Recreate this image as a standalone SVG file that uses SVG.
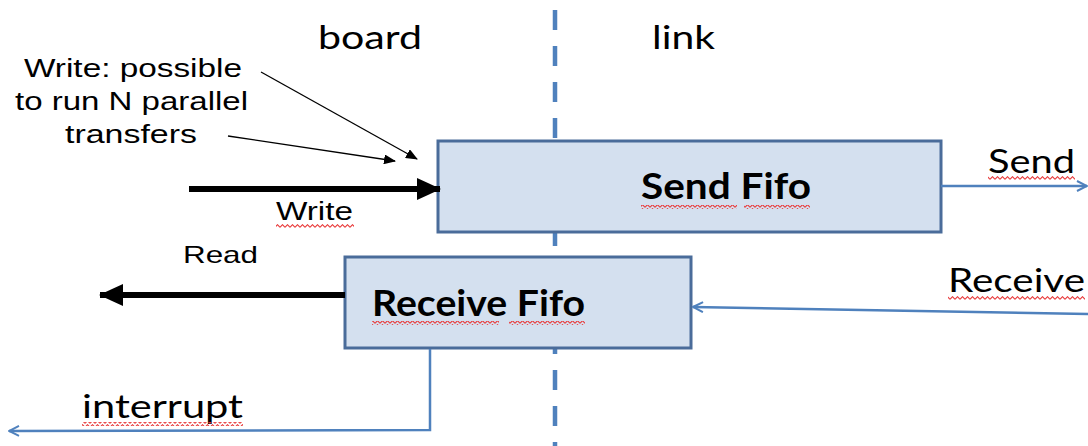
<svg xmlns="http://www.w3.org/2000/svg" width="1088" height="446" viewBox="0 0 1088 446">
  <style>
    .cal { font-family: Lato, "Open Sans", "Liberation Sans", sans-serif; fill: #000; }
    .ari { font-family: "Liberation Sans", Arial, sans-serif; fill: #000; }
    .bold { font-weight: bold; }
    .box { fill: #d4e0ef; stroke: #4a6c9a; stroke-width: 3; }
    .blue { fill: none; stroke: #4f81bd; stroke-width: 2.5; }
    .thick { fill: none; stroke: #000; stroke-width: 6; }
    .thin { fill: none; stroke: #000; stroke-width: 1.3; }
    .squig { fill: url(#squiggle); }
  </style>
  <defs>
    <pattern id="squiggle" width="5" height="4" patternUnits="userSpaceOnUse">
      <path d="M0,3.3 L2.5,0.7 L5,3.3" fill="none" stroke="#e8393a" stroke-width="1.1"/>
    </pattern>
    <marker id="blueHead" viewBox="0 0 12 12" refX="11" refY="6" markerWidth="12" markerHeight="12" markerUnits="userSpaceOnUse" orient="auto">
      <path d="M1,1 L11,6 L1,11" fill="none" stroke="#4f81bd" stroke-width="2"/>
    </marker>
    <marker id="blackHead" viewBox="0 0 24 24" refX="23" refY="12" markerWidth="24" markerHeight="24" markerUnits="userSpaceOnUse" orient="auto">
      <path d="M0,1 L24,12 L0,23 Z" fill="#000"/>
    </marker>
    <marker id="thinHead" viewBox="0 0 12 10" refX="11" refY="5" markerWidth="12" markerHeight="10" markerUnits="userSpaceOnUse" orient="auto">
      <path d="M0,0 L12,5 L0,10 Z" fill="#000"/>
    </marker>
  </defs>

  <rect width="1088" height="446" fill="#fff"/>

  <!-- domain boundary between board and link -->
  <g id="boundary">
    <line x1="555" y1="10" x2="555" y2="446" stroke="#4f81bd" stroke-width="4.5" stroke-dasharray="20,16"/>
    <text class="cal" x="318" y="49" font-size="32" textLength="104" lengthAdjust="spacingAndGlyphs">board</text>
    <text class="cal" x="652" y="49" font-size="32" textLength="63" lengthAdjust="spacingAndGlyphs">link</text>
  </g>

  <!-- annotation -->
  <g id="note">
    <text class="ari" x="24" y="77" font-size="25" textLength="218" lengthAdjust="spacingAndGlyphs">Write: possible</text>
    <text class="ari" x="15" y="110" font-size="25" textLength="233" lengthAdjust="spacingAndGlyphs">to run N parallel</text>
    <text class="ari" x="65" y="143" font-size="25" textLength="132" lengthAdjust="spacingAndGlyphs">transfers</text>
  </g>

  <!-- FIFO nodes -->
  <g id="send-fifo">
    <rect class="box" x="438" y="141" width="503" height="91"/>
    <text class="cal bold" x="641" y="199" font-size="36" textLength="170" lengthAdjust="spacingAndGlyphs">Send Fifo</text>
    <rect class="squig" x="641" y="205" width="96" height="4"/>
    <rect class="squig" x="744" y="205" width="66" height="4"/>
  </g>

  <g id="receive-fifo">
    <rect class="box" x="345" y="257" width="346" height="91"/>
    <text class="cal bold" x="372" y="316" font-size="36" textLength="213" lengthAdjust="spacingAndGlyphs">Receive Fifo</text>
    <rect class="squig" x="372" y="321" width="127" height="4"/>
    <rect class="squig" x="509" y="321" width="76" height="4"/>
  </g>

  <!-- connectors -->
  <g id="connectors">
    <line class="thin" x1="261" y1="72" x2="417" y2="159" marker-end="url(#thinHead)"/>
    <line class="thin" x1="228" y1="136" x2="395" y2="161" marker-end="url(#thinHead)"/>

    <line class="thick" x1="189" y1="189" x2="440" y2="189" marker-end="url(#blackHead)"/>
    <text class="ari" x="276" y="220" font-size="25" textLength="77" lengthAdjust="spacingAndGlyphs">Write</text>
    <rect class="squig" x="276" y="224" width="78" height="4"/>

    <line class="thick" x1="345" y1="295" x2="100" y2="295" marker-end="url(#blackHead)"/>
    <text class="ari" x="183" y="263" font-size="24" textLength="75" lengthAdjust="spacingAndGlyphs">Read</text>

    <line class="blue" x1="941" y1="186" x2="1087" y2="186" marker-end="url(#blueHead)"/>
    <text class="cal" x="988" y="173" font-size="33" textLength="87" lengthAdjust="spacingAndGlyphs">Send</text>
    <rect class="squig" x="988" y="176" width="87" height="4"/>

    <line class="blue" x1="1088" y1="314" x2="693" y2="307" marker-end="url(#blueHead)"/>
    <text class="cal" x="948" y="292" font-size="33" textLength="137" lengthAdjust="spacingAndGlyphs">Receive</text>
    <rect class="squig" x="948" y="296" width="137" height="4"/>

    <polyline class="blue" points="430,349 430,430 9,431" marker-end="url(#blueHead)"/>
    <text class="cal" x="82" y="418" font-size="33" textLength="161" lengthAdjust="spacingAndGlyphs">interrupt</text>
    <rect class="squig" x="82" y="422" width="161" height="4"/>
  </g>
</svg>
